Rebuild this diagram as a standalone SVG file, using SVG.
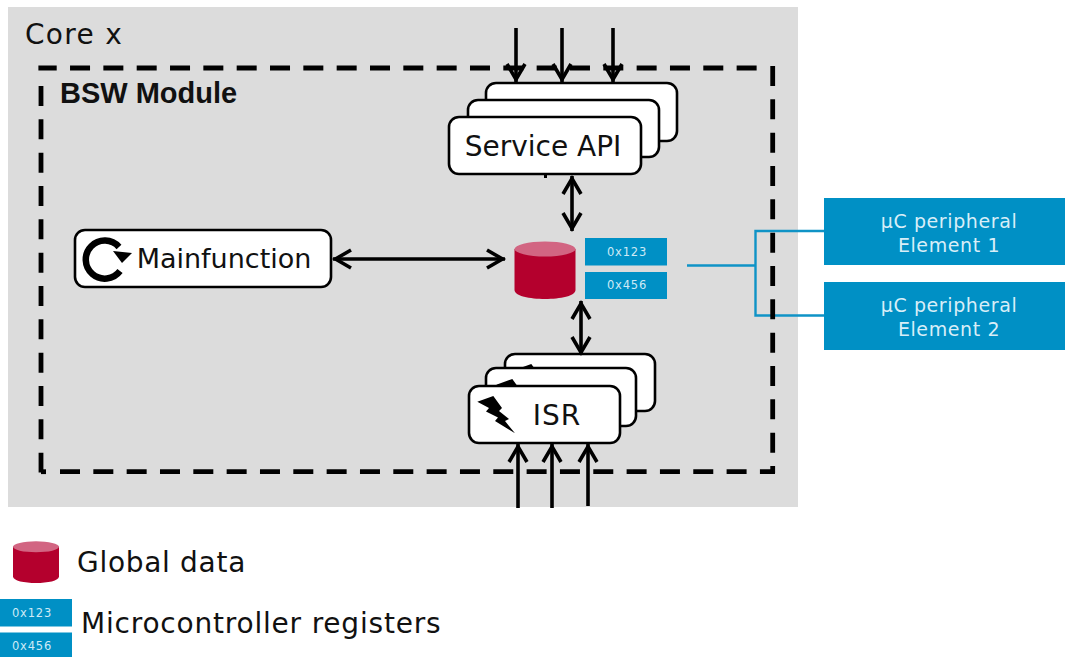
<svg xmlns="http://www.w3.org/2000/svg" width="1065" height="657" viewBox="0 0 1065 657">
<style>
text{font-family:"DejaVu Sans",sans-serif;fill:#111}
.box{fill:#fff;stroke:#000;stroke-width:2.6}
.lbl{font-size:27px;text-anchor:middle}
.conn{fill:none;stroke:#000;stroke-width:3.6}
.reg{fill:#0090c5}
.regt{font-size:11.5px;fill:#cfeaf6;text-anchor:middle;letter-spacing:.8px}
.per{font-size:19px;fill:#d8eef8;text-anchor:middle;letter-spacing:.6px}
.wire{fill:none;stroke:#0f93c6;stroke-width:2.4}
.bolt{fill:#000}
.dash{fill:none;stroke:#000;stroke-width:4.8;stroke-dasharray:20 13.33}
</style>
<defs>
<marker id="a" viewBox="0 0 24 24" refX="21.500" refY="12" markerWidth="24" markerHeight="24" markerUnits="userSpaceOnUse" orient="auto-start-reverse"><path d="M3.500 3L19 12L3.500 21" fill="none" stroke="#000" stroke-width="3.600"/></marker>
<g id="cyl"><path d="M0 8V49C0 61 61 61 61 49V8Z" fill="#b4002d"/><ellipse cx="30.500" cy="8" rx="30.500" ry="7.500" fill="#d26582"/></g>
<path id="lightning" d="M-0.700 5.700L15.300 0L24 12L21 15L31 23L27 25L37 37.300L17 25L20 21.500L8 15.500L11 12Z"/>
</defs>
<rect x="8" y="7" width="790" height="500" fill="#dcdcdc"/>
<text x="25" y="43.500" font-size="28" letter-spacing="1.300">Core x</text>
<text x="60" y="103" font-size="29" font-weight="700" style="font-family:'Liberation Sans',sans-serif">BSW Module</text>
<g id="service-api">
<rect class="box" x="486" y="83" width="191" height="58" rx="10"/>
<rect class="box" x="468" y="100" width="191" height="57" rx="10"/>
<rect x="544" y="174" width="3" height="4" fill="#000"/>
<rect class="box" x="449" y="117" width="192" height="57" rx="10"/>
<text class="lbl" x="543" y="156" style="font-size:28px">Service API</text>
</g>
<g id="mainfunction">
<rect class="box" x="75" y="230" width="256" height="57" rx="10"/>
<path d="M119 247A19 19 0 1 0 120 271" fill="none" stroke="#000" stroke-width="6.500"/>
<path d="M113 251L132 253L122 263Z" fill="#000"/>
<text class="lbl" x="224" y="268">Mainfunction</text>
</g>
<g id="global-data"><use href="#cyl" x="514.500" y="241"/></g>
<g id="registers">
<rect class="reg" x="585" y="238" width="82" height="27.500"/>
<text class="regt" x="627" y="256">0x123</text>
<rect class="reg" x="585" y="272" width="82" height="27"/>
<text class="regt" x="627" y="289">0x456</text>
</g>
<g id="isr">
<rect class="box" x="505" y="354" width="150" height="57" rx="10"/>
<use href="#lightning" class="bolt" x="516" y="364"/>
<rect class="box" x="486" y="368" width="150" height="58" rx="10"/>
<use href="#lightning" class="bolt" x="497" y="379"/>
<rect class="box" x="469" y="386" width="151" height="57" rx="10"/>
<use href="#lightning" class="bolt" x="478" y="396"/>
<text class="lbl" x="557" y="425" style="font-size:28px" letter-spacing="1">ISR</text>
</g>
<g id="peripheral-1">
<rect class="reg" x="824" y="198" width="241" height="67"/>
<text class="per" x="949" y="228">µC peripheral</text>
<text class="per" x="949" y="252">Element 1</text>
</g>
<g id="peripheral-2">
<rect class="reg" x="824" y="282" width="241" height="68"/>
<text class="per" x="949" y="312">µC peripheral</text>
<text class="per" x="949" y="336">Element 2</text>
</g>
<g id="connectors">
<path class="conn" d="M516 28V82" marker-end="url(#a)"/>
<path class="conn" d="M562 28V82" marker-end="url(#a)"/>
<path class="conn" d="M613 28V82" marker-end="url(#a)"/>
<path class="conn" d="M572 176V231" marker-start="url(#a)" marker-end="url(#a)"/>
<path class="conn" d="M333 259H505" marker-start="url(#a)" marker-end="url(#a)"/>
<path class="conn" d="M581 301V355" marker-start="url(#a)" marker-end="url(#a)"/>
<path class="conn" d="M518 508V444" marker-end="url(#a)"/>
<path class="conn" d="M552 508V444" marker-end="url(#a)"/>
<path class="conn" d="M588 506V444" marker-end="url(#a)"/>
<path class="wire" d="M687 265.500H755.500M824 231H755.500V315.500H824"/>
</g>
<g id="module-border">
<path class="dash" d="M38.400 68H757" stroke-dashoffset="1.700"/>
<path class="dash" d="M41 86V472.600"/>
<path class="dash" d="M60 471.700H775"/>
<path d="M41 471.700H46" fill="none" stroke="#000" stroke-width="4.800"/>
<path class="dash" d="M772.700 66V473"/>
</g>
<g id="legend-global-data">
<use href="#cyl" transform="translate(13 541) scale(.754 .724)"/>
<text x="77" y="572" font-size="28" letter-spacing=".7">Global data</text>
</g>
<g id="legend-registers">
<rect class="reg" x="0" y="599" width="72" height="27.500"/>
<text class="regt" x="32" y="617">0x123</text>
<rect class="reg" x="0" y="632.500" width="72" height="24.500"/>
<text class="regt" x="32" y="650">0x456</text>
<text x="81" y="632.500" font-size="28" letter-spacing=".8">Microcontroller registers</text>
</g>
</svg>
